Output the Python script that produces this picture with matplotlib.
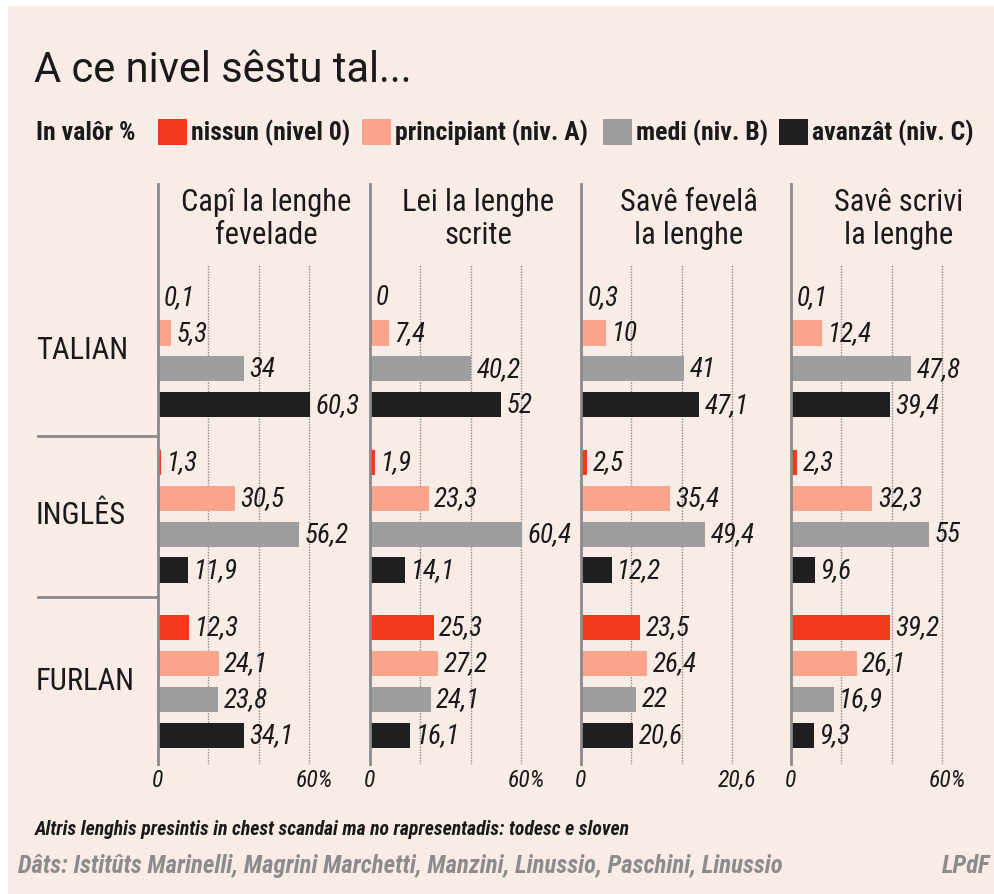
import matplotlib
matplotlib.use("Agg")
from matplotlib import pyplot as plt
from matplotlib.lines import Line2D
from matplotlib.patches import Rectangle

# dati
linghis = ["TALIAN", "INGLÊS", "FURLAN"]
nivei = ["nissun (nivel 0)", "principiant (niv. A)", "medi (niv. B)", "avanzât (niv. C)"]
titui = ["Capî la lenghe\nfevelade", "Lei la lenghe\nscrite", "Savê fevelâ\nla lenghe", "Savê scrivi\nla lenghe"]
etichetis_max = ["60%", "60%", "20,6", "60%"]

capi = [[0.1, 5.3, 34, 60.3], [1.3, 30.5, 56.2, 11.9], [12.3, 24.1, 23.8, 34.1]]
lei = [[0, 7.4, 40.2, 52], [1.9, 23.3, 60.4, 14.1], [25.3, 27.2, 24.1, 16.1]]
fevela = [[0.3, 10, 41, 47.1], [2.5, 35.4, 49.4, 12.2], [23.5, 26.4, 22, 20.6]]
scrivi = [[0.1, 12.4, 47.8, 39.4], [2.3, 32.3, 55, 9.6], [39.2, 26.1, 16.9, 9.3]]
pannei = [capi, lei, fevela, scrivi]

colors = ["#f2391c", "#f8a58c", "#9e9e9e", "#1f1f1f"]
bg = "#f9ece6"
W, H = 994, 895
NARROW = ["Roboto Condensed", "Archivo Narrow", "PT Sans Narrow", "DejaVu Sans"]

fig = plt.figure(figsize=(W / 100, H / 100), dpi=100)
fig.patch.set_facecolor("white")
fig.add_artist(Rectangle((8 / W, 0), 1, 1 - 7 / H, transform=fig.transFigure,
                         facecolor=bg, edgecolor="none", zorder=-10))


def fx(px):
    return px / W


def fy(py):
    return 1 - py / H


# titul e leiende
fig.text(fx(34), fy(70), "A ce nivel sêstu tal...", fontsize=30, family=["Roboto", "DejaVu Sans"],
         va="center", ha="left", color="#1a1a1a")
fig.text(fx(36), fy(133), "In valôr %", fontsize=18.5, family=NARROW, weight="bold", va="center", color="#1a1a1a")
leg_x = [158, 362, 603, 779]
for x, lab, c in zip(leg_x, nivei, colors):
    fig.add_artist(Rectangle((fx(x), fy(146)), 29 / W, 26 / H, transform=fig.transFigure,
                             facecolor=c, edgecolor="none"))
    fig.text(fx(x + 33), fy(133), lab, fontsize=18.5, family=NARROW, weight="bold", va="center", color="#1a1a1a")

# posizions des sbaris
pas_grup = 4.6
ypos = [[g * pas_grup + k for k in range(4)] for g in range(3)]
scale = 2.515  # px par unitât
lefts = [158, 370, 581, 791]
top, bottom = 265, 765

for p, (left, dati) in enumerate(zip(lefts, pannei)):
    wpx = 211 if p < 3 else W - left
    ax = fig.add_axes([fx(left), fy(bottom), wpx / W, (bottom - top) / H])
    ax.set_facecolor("none")
    for g in range(3):
        ax.barh(ypos[g], dati[g], height=0.7, color=colors, zorder=3)
        for y, v in zip(ypos[g], dati[g]):
            lab = ("%g" % v).replace(".", ",")
            ax.annotate(lab, (v, y), xytext=(4, 0), textcoords="offset points", va="center", ha="left",
                        fontsize=19.5, family=NARROW, style="italic", color="#1a1a1a", zorder=4)
    ax.set_xlim(0, wpx / scale)
    ax.set_ylim(2 * pas_grup + 3 + 0.8, -0.92)
    for gx in [20, 40, 60]:
        ax.axvline(gx, color="#8a8a8a", lw=1, ls=(0, (1, 1)), zorder=1)
    for s in ax.spines.values():
        s.set_visible(False)
    ax.set_yticks([])
    ax.set_xticks([0, 62])
    ax.set_xticklabels(["0", etichetis_max[p]], fontsize=17, family=NARROW, style="italic", color="#1a1a1a")
    ax.tick_params(axis="x", length=0, pad=3)
    # linie verticâl dal panel
    fig.add_artist(Line2D([fx(left), fx(left)], [fy(185), fy(765)], color="#8a8a8a", lw=2))
    fig.text(fx(left + 108), fy(219), titui[p], fontsize=22, family=NARROW, ha="center", va="center",
             linespacing=1.15, color="#1a1a1a")

# etichetis des lenghis
for g, nom in enumerate(linghis):
    cy = 298 + g * 165 + 53
    fig.text(fx(36), fy(cy), nom, fontsize=22, family=NARROW, va="center", ha="left", color="#1a1a1a")
for sy in [437, 598]:
    fig.add_artist(Line2D([fx(38), fx(158)], [fy(sy), fy(sy)], color="#8a8a8a", lw=2))

# notis
fig.text(fx(35), fy(830), "Altris lenghis presintis in chest scandai ma no rapresentadis: todesc e sloven",
         fontsize=14.2, family=NARROW, style="italic", weight="bold", va="center", color="#1a1a1a")
fig.text(fx(18), fy(866), "Dâts: Istitûts Marinelli, Magrini Marchetti, Manzini, Linussio, Paschini, Linussio",
         fontsize=17.8, family=NARROW, style="italic", weight="bold", va="center", color="#8c8c8c")
fig.text(fx(990), fy(866), "LPdF", fontsize=17.8, family=NARROW, style="italic", weight="bold",
         va="center", ha="right", color="#8c8c8c")

fig.savefig("out.png", dpi=100, facecolor=fig.get_facecolor())
